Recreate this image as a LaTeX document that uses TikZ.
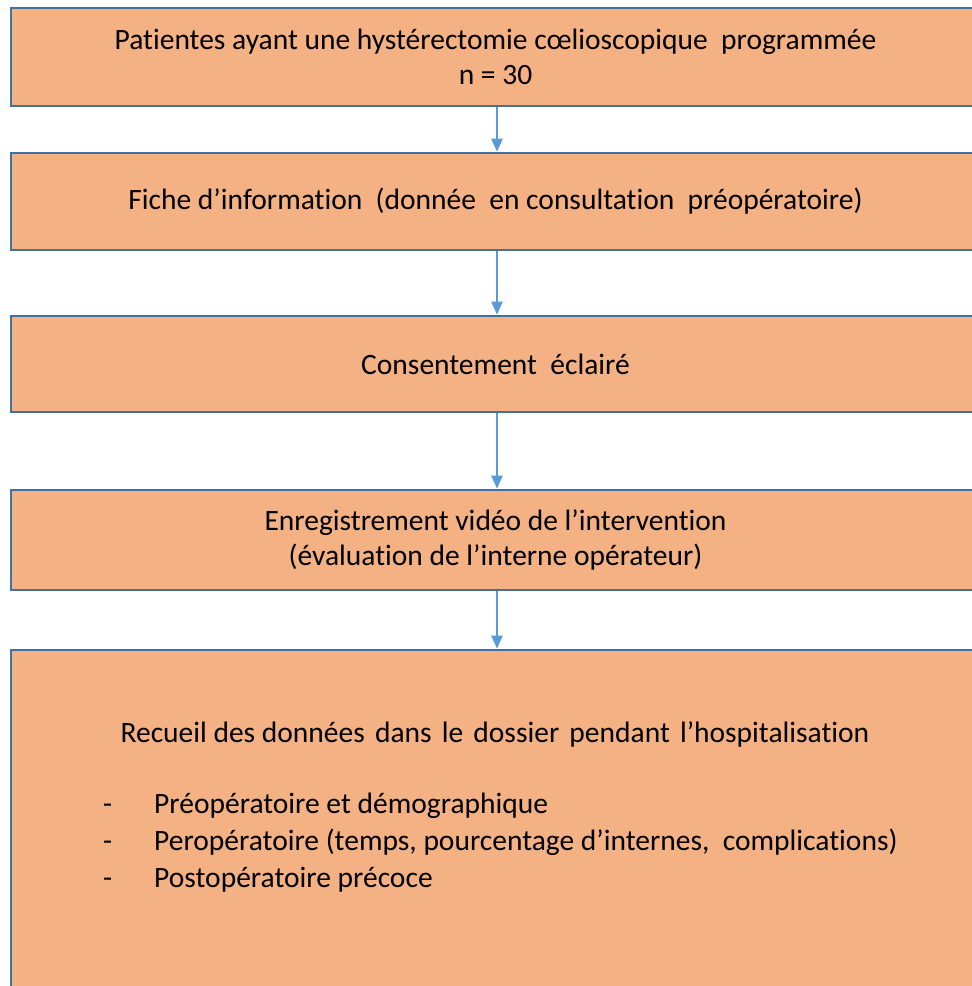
\documentclass[tikz,border=0pt]{standalone}
\usepackage{fontspec}
\setmainfont{Carlito}[Ligatures={NoCommon}]
\usepackage{tikz}
\usetikzlibrary{positioning,arrows.meta}
\definecolor{saumon}{RGB}{244,177,131}
\definecolor{bleuf}{RGB}{65,113,156}
\definecolor{bleuc}{RGB}{91,155,213}
\newcommand{\esp}{\ \hspace{3.5pt}}

\begin{document}
\begin{tikzpicture}[x=1pt, y=-1pt,
  b/.style={rectangle, draw=bleuf, fill=saumon, line width=2.6pt,
            minimum width=969pt, minimum height=#1, align=center, inner sep=0pt,
            font=\fontsize{29.5}{34.5}\selectfont},
  fl/.style={-{Triangle[length=13pt,width=11pt]}, draw=bleuc, line width=2.2pt},
  txt/.style={font=\fontsize{29.5}{37}\selectfont, inner sep=0pt}]

\clip (0,0) rectangle (972,986);

% les cadres
\node[b=98pt] (patientes) at (495.5, 57)
  {Patientes ayant une hystérectomie cœlioscopique\ \ programmée\\ n = 30};
\node[b=97pt] (fiche) at (495.5, 201.5)
  {Fiche d’information\ \ (donnée\ \ en consultation\ \ préopératoire)};
\node[b=96pt] (consent) at (495.5, 364)
  {Consentement\ \ éclairé};
\node[b=100pt] (video) at (495.5, 540)
  {Enregistrement vidéo de l’intervention\\ (évaluation de l’interne opérateur)};
\node[b=380pt] (recueil) at (495.5, 840) {};

\node[txt] (titre) at (495, 734)
  {Recueil des données\esp dans\esp le\esp dossier\esp pendant\esp l’hospitalisation};
\node[txt, anchor=west, align=left] (liste) at (103, 843)
  {-\hspace{42pt}Préopératoire et démographique\\
   -\hspace{42pt}Peropératoire (temps, pourcentage d’internes,\ \ complications)\\
   -\hspace{42pt}Postopératoire précoce};

% les fleches
\draw[fl] (patientes.south -| 497,0) -- (fiche.north -| 497,0);
\draw[fl] (fiche.south -| 497,0) -- (consent.north -| 497,0);
\draw[fl] (consent.south -| 497,0) -- (video.north -| 497,0);
\draw[fl] (video.south -| 497,0) -- (recueil.north -| 497,0);

\end{tikzpicture}
\end{document}
